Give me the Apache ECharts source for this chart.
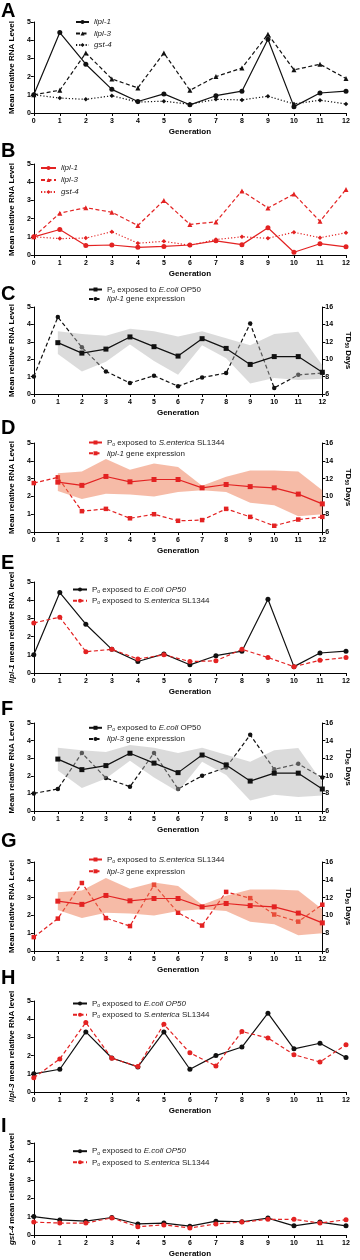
<!DOCTYPE html>
<html>
<head>
<meta charset="utf-8">
<script src="https://cdn.jsdelivr.net/npm/echarts@6/dist/echarts.min.js"></script>
<style>
  html, body { margin: 0; padding: 0; background: #fff; }
  #app { width: 360px; height: 1260px; }
</style>
</head>
<body>
<div id="app"></div>
<script>
const FONT = "Liberation Sans, Arial, Helvetica, sans-serif";

const generations = [0, 1, 2, 3, 4, 5, 6, 7, 8, 9, 10, 11, 12];
const lifespanGenerations = [1, 2, 3, 4, 5, 6, 7, 8, 9, 10, 11, 12];

// E. coli OP50 (black), relative to generation 0
const ecoliLipl1 = [1.0, 4.42, 2.68, 1.3, 0.63, 1.05, 0.45, 0.95, 1.2, 4.05, 0.35, 1.1, 1.2];
const ecoliLipl3 = [1.0, 1.25, 3.3, 1.87, 1.38, 3.3, 1.25, 2.0, 2.47, 4.33, 2.37, 2.68, 1.9];
const ecoliGst4 = [1.0, 0.82, 0.75, 0.95, 0.6, 0.65, 0.48, 0.75, 0.72, 0.92, 0.5, 0.7, 0.5];

// S. enterica SL1344 (red), panel B
const sentLipl1 = [1.0, 1.4, 0.52, 0.55, 0.42, 0.47, 0.55, 0.78, 0.57, 1.5, 0.15, 0.62, 0.45];
const sentLipl3 = [1.0, 2.3, 2.6, 2.35, 1.62, 3.0, 1.68, 1.82, 3.52, 2.58, 3.35, 1.85, 3.6];
const sentGst4 = [1.0, 0.9, 0.93, 1.28, 0.65, 0.75, 0.53, 0.85, 1.0, 0.92, 1.25, 0.95, 1.22];

// S. enterica SL1344, relative to E. coli (panels D, E, G, H, I)
const sentLipl1Rel = [2.75, 3.07, 1.17, 1.3, 0.77, 1.0, 0.63, 0.67, 1.3, 0.85, 0.35, 0.7, 0.85];
const sentLipl3Rel = [0.78, 1.82, 3.82, 1.85, 1.4, 3.72, 2.15, 1.43, 3.32, 2.97, 2.05, 1.65, 2.6];
const sentGst4Rel = [0.7, 0.65, 0.65, 0.93, 0.45, 0.55, 0.38, 0.6, 0.7, 0.85, 0.85, 0.65, 0.83];

// TD50 (days) of P0 lineages
const ecoliTd50 = [11.9, 10.7, 11.16, 12.56, 11.44, 10.36, 12.36, 11.24, 9.4, 10.3, 10.3, 8.5];
const ecoliTd50Upper = [13.2, 12.9, 12.7, 13.5, 13.2, 12.6, 13.2, 12.4, 11.6, 12.9, 13.16, 9.3];
const ecoliTd50Lower = [10.6, 8.6, 9.7, 11.7, 9.8, 8.2, 11.6, 10.1, 7.2, 7.84, 7.6, 7.76];
const sentTd50 = [11.6, 11.24, 12.24, 11.64, 11.9, 11.9, 10.96, 11.34, 11.1, 10.96, 10.26, 9.16];
const sentTd50Upper = [12.6, 12.8, 14.2, 13.0, 13.7, 13.3, 11.2, 12.2, 12.9, 12.9, 12.8, 10.7];
const sentTd50Lower = [10.6, 9.7, 10.3, 10.2, 10.0, 10.5, 10.7, 10.5, 9.3, 9.0, 7.76, 8.0];

const rnaTicks = [0, 5, 1];
const tdTicks = [6, 16, 2];

const BLACK = "#111111";
const RED = "#e32222";
const DASH = [4, 2.5];
const DOT = [1.2, 2];

// panel layout: top of axis (value 5), zero line, right margin, letter, legend
const panels = [
  { letter: "A", top: 22, zero: 113, right: 14, letterTop: 1, lgLeft: 75, lgTop: 18, lgGap: 3.5, lgW: 13 },
  { letter: "B", top: 164, zero: 255, right: 14, letterTop: 141, lgLeft: 40, lgTop: 164, lgGap: 4, lgW: 15 },
  { letter: "C", top: 307, zero: 394, right: 23, letterTop: 284, lgLeft: 88, lgTop: 285.5, lgGap: 1, lgW: 13 },
  { letter: "D", top: 443, zero: 532, right: 23, letterTop: 418, lgLeft: 88, lgTop: 438.5, lgGap: 2.3, lgW: 13 },
  { letter: "E", top: 582, zero: 673, right: 14, letterTop: 553, lgLeft: 72, lgTop: 585.5, lgGap: 2.7, lgW: 14 },
  { letter: "F", top: 723, zero: 811, right: 23, letterTop: 699, lgLeft: 88, lgTop: 723.8, lgGap: 2.7, lgW: 13 },
  { letter: "G", top: 862, zero: 951, right: 23, letterTop: 831, lgLeft: 88, lgTop: 855.5, lgGap: 3.3, lgW: 13 },
  { letter: "H", top: 1001, zero: 1092, right: 14, letterTop: 968, lgLeft: 72, lgTop: 999.5, lgGap: 2.7, lgW: 14 },
  { letter: "I", top: 1143, zero: 1235, right: 14, letterTop: 1116, lgLeft: 72, lgTop: 1147.2, lgGap: 2.6, lgW: 14 }
];

const yNames = [
  "Mean relative RNA Level", "Mean relative RNA Level", "Mean relative RNA Level",
  "Mean relative RNA Level", "{i|lipl-1} mean relative RNA level", "Mean relative RNA Level",
  "Mean relative RNA Level", "{i|lipl-3} mean relative RNA level", "{i|gst-4} mean relative RNA level"
];

const ecoliLabel = "{n|P}{s|o}{n| exposed to }{i|E.coli}{n| OP50}";
const ecoliLabelIt = "{n|P}{s|o}{n| exposed to }{i|E.coli OP50}";
const sentLabel = "{n|P}{s|o}{n| exposed to }{i|S.enterica}{n| SL1344}";

const legendLabels = {
  "A1": "{i|lipl-1}", "A2": "{i|lipl-3}", "A3": "{i|gst-4}",
  "B1": "{i|lipl-1}", "B2": "{i|lipl-3}", "B3": "{i|gst-4}",
  "C1": ecoliLabel, "C2": "{i|lipl-1}{n| gene expression}",
  "D1": sentLabel, "D2": "{i|lipl-1}{n| gene expression}",
  "E1": ecoliLabelIt, "E2": sentLabel,
  "F1": ecoliLabel, "F2": "{i|lipl-3}{n| gene expression}",
  "G1": sentLabel, "G2": "{i|lipl-3}{n| gene expression}",
  "H1": ecoliLabelIt, "H2": sentLabel,
  "I1": ecoliLabelIt, "I2": sentLabel
};

const legendRich = {
  n: { fontSize: 8, fontFamily: FONT, color: "#222", lineHeight: 9 },
  i: { fontSize: 8, fontFamily: FONT, fontStyle: "italic", color: "#222", lineHeight: 9 },
  s: { fontSize: 5, fontFamily: FONT, color: "#222", lineHeight: 9, verticalAlign: "bottom" }
};

function pts(xs, ys) {
  return xs.map((x, k) => [x, ys[k]]);
}

function line(name, p, yi, xs, ys, o) {
  return {
    type: "line", name: name, xAxisIndex: p, yAxisIndex: yi,
    data: pts(xs, ys),
    symbol: o.symbol || "circle", symbolSize: o.size || 5,
    z: o.z || 2, silent: true,
    lineStyle: { color: o.color, width: o.width || 1.2, type: o.dash || "solid" },
    itemStyle: { color: o.color }
  };
}

// shaded range between lower and upper TD50, drawn as one polygon
function band(p, yi, upper, lower, color) {
  const rows = lifespanGenerations.map((g, k) => [g, lower[k], upper[k]]);
  return {
    type: "custom", xAxisIndex: p, yAxisIndex: yi, z: 3, silent: true,
    data: rows,
    encode: { x: 0, y: [1, 2] },
    renderItem: function (params, api) {
      if (params.dataIndex !== 0) return null;
      const top = rows.map(r => api.coord([r[0], r[2]]));
      const bottom = rows.map(r => api.coord([r[0], r[1]])).reverse();
      return {
        type: "polygon",
        shape: { points: top.concat(bottom) },
        style: { fill: color, stroke: null }
      };
    }
  };
}

const grid = [], xAxis = [], yAxis = [], title = [], legend = [];
const axisLineStyle = { color: "#000", width: 1 };
const tickLabel = { fontSize: 7, fontWeight: "bold", color: "#000", fontFamily: FONT };

panels.forEach((p, i) => {
  grid.push({ left: 33, right: p.right, top: p.top, height: p.zero - p.top });
  xAxis.push({
    gridIndex: i, type: "value", min: 0, max: 12, interval: 1,
    axisLine: { onZero: false, lineStyle: axisLineStyle },
    axisTick: { length: 3, lineStyle: axisLineStyle },
    axisLabel: Object.assign({ margin: 5 }, tickLabel),
    splitLine: { show: false },
    name: "Generation", nameLocation: "middle", nameGap: 15,
    nameTextStyle: { fontSize: 8, fontWeight: "bold", color: "#000", fontFamily: FONT }
  });
  yAxis.push({
    gridIndex: i, type: "value", min: rnaTicks[0], max: rnaTicks[1], interval: rnaTicks[2],
    axisLine: { show: true, onZero: false, lineStyle: axisLineStyle },
    axisTick: { show: true, length: 3, lineStyle: axisLineStyle },
    axisLabel: Object.assign({ margin: 3 }, tickLabel),
    splitLine: { show: false },
    name: yNames[i], nameLocation: "middle", nameGap: 13, nameRotate: 90,
    nameTextStyle: {
      fontSize: 8, fontWeight: "bold", color: "#000", fontFamily: FONT,
      rich: { i: { fontSize: 8, fontWeight: "bold", fontStyle: "italic", color: "#000", fontFamily: FONT } }
    }
  });
  title.push({
    text: p.letter, left: 1, top: p.letterTop, padding: 0,
    textStyle: { fontSize: 20, fontWeight: "bold", color: "#000", fontFamily: FONT }
  });
});

// right TD50 axes for C, D, F, G
const rightAxisOf = {};
[2, 3, 5, 6].forEach(gi => {
  rightAxisOf[gi] = yAxis.length;
  yAxis.push({
    gridIndex: gi, type: "value", position: "right",
    min: tdTicks[0], max: tdTicks[1], interval: tdTicks[2],
    axisLine: { show: true, onZero: false, lineStyle: axisLineStyle },
    axisTick: { show: true, length: 3, lineStyle: axisLineStyle },
    axisLabel: Object.assign({ margin: 3 }, tickLabel),
    splitLine: { show: false },
    name: "TD{s|50} Days", nameLocation: "middle", nameGap: 14, nameRotate: -90,
    nameTextStyle: {
      fontSize: 8, fontWeight: "bold", color: "#000", fontFamily: FONT,
      rich: { s: { fontSize: 5, fontWeight: "bold", color: "#000", fontFamily: FONT, verticalAlign: "bottom" } }
    }
  });
});

const GREY_BAND = "rgba(175,175,175,0.45)";
const RED_BAND = "rgba(238,120,80,0.5)";

const series = [];
// A
series.push(line("A1", 0, 0, generations, ecoliLipl1, { color: BLACK }));
series.push(line("A2", 0, 0, generations, ecoliLipl3, { color: BLACK, dash: DASH, symbol: "triangle" }));
series.push(line("A3", 0, 0, generations, ecoliGst4, { color: BLACK, dash: DOT, symbol: "diamond", size: 4.5 }));
// B
series.push(line("B1", 1, 1, generations, sentLipl1, { color: RED }));
series.push(line("B2", 1, 1, generations, sentLipl3, { color: RED, dash: DASH, symbol: "triangle" }));
series.push(line("B3", 1, 1, generations, sentGst4, { color: RED, dash: DOT, symbol: "diamond", size: 4.5 }));
// C
series.push(line("C2", 2, 2, generations, ecoliLipl1, { color: BLACK, dash: DASH, size: 4.5, z: 2 }));
series.push(band(2, rightAxisOf[2], ecoliTd50Upper, ecoliTd50Lower, GREY_BAND));
series.push(line("C1", 2, rightAxisOf[2], lifespanGenerations, ecoliTd50, { color: BLACK, symbol: "rect", z: 4 }));
// D
series.push(line("D2", 3, 3, generations, sentLipl1Rel, { color: RED, dash: DASH, symbol: "rect", size: 4.5, z: 2 }));
series.push(band(3, rightAxisOf[3], sentTd50Upper, sentTd50Lower, RED_BAND));
series.push(line("D1", 3, rightAxisOf[3], lifespanGenerations, sentTd50, { color: RED, symbol: "rect", z: 4 }));
// E
series.push(line("E1", 4, 4, generations, ecoliLipl1, { color: BLACK }));
series.push(line("E2", 4, 4, generations, sentLipl1Rel, { color: RED, dash: DASH, z: 3 }));
// F
series.push(line("F2", 5, 5, generations, ecoliLipl3, { color: BLACK, dash: DASH, size: 4.5, z: 2 }));
series.push(band(5, rightAxisOf[5], ecoliTd50Upper, ecoliTd50Lower, GREY_BAND));
series.push(line("F1", 5, rightAxisOf[5], lifespanGenerations, ecoliTd50, { color: BLACK, symbol: "rect", z: 4 }));
// G
series.push(line("G2", 6, 6, generations, sentLipl3Rel, { color: RED, dash: DASH, symbol: "rect", size: 4.5, z: 2 }));
series.push(band(6, rightAxisOf[6], sentTd50Upper, sentTd50Lower, RED_BAND));
series.push(line("G1", 6, rightAxisOf[6], lifespanGenerations, sentTd50, { color: RED, symbol: "rect", z: 4 }));
// H
series.push(line("H1", 7, 7, generations, ecoliLipl3, { color: BLACK }));
series.push(line("H2", 7, 7, generations, sentLipl3Rel, { color: RED, dash: DASH, z: 3 }));
// I
series.push(line("I1", 8, 8, generations, ecoliGst4, { color: BLACK }));
series.push(line("I2", 8, 8, generations, sentGst4Rel, { color: RED, dash: DASH, z: 3 }));

const legendNames = [
  ["A1", "A2", "A3"], ["B1", "B2", "B3"], ["C1", "C2"], ["D1", "D2"], ["E1", "E2"],
  ["F1", "F2"], ["G1", "G2"], ["H1", "H2"], ["I1", "I2"]
];
panels.forEach((p, i) => {
  legend.push({
    data: legendNames[i], orient: "vertical", left: p.lgLeft, top: p.lgTop,
    itemGap: p.lgGap, itemWidth: p.lgW, itemHeight: 5, padding: 0,
    selectedMode: false,
    textStyle: { fontSize: 8, fontFamily: FONT, color: "#222", rich: legendRich },
    formatter: name => legendLabels[name]
  });
});

const chart = echarts.init(document.getElementById("app"), null, { renderer: "canvas" });
chart.setOption({
  backgroundColor: "#fff",
  animation: false,
  title: title,
  legend: legend,
  grid: grid,
  xAxis: xAxis,
  yAxis: yAxis,
  series: series
});
</script>
</body>
</html>
